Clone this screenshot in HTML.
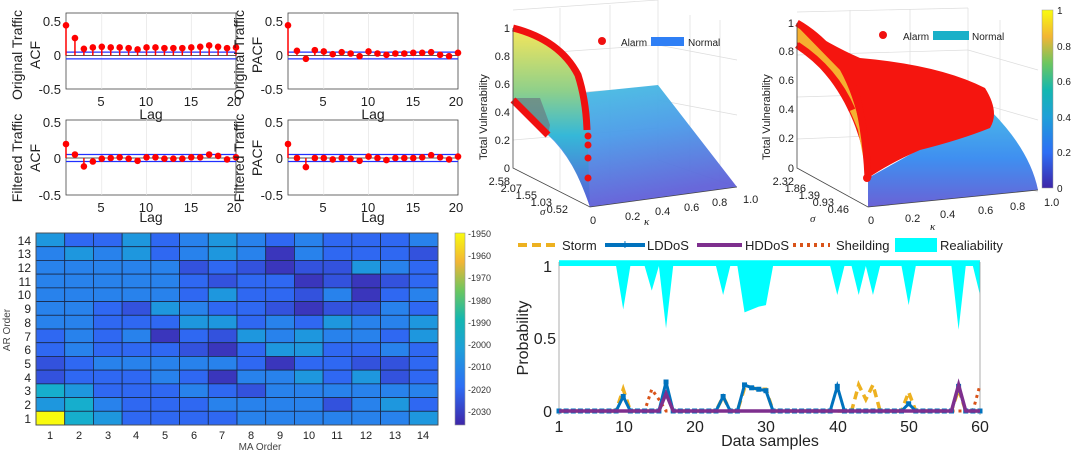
<!DOCTYPE html>
<html><head><meta charset="utf-8"><style>
body{margin:0;background:#fff;}
svg{display:block;font-family:"Liberation Sans",Arial,sans-serif;}
</style></head><body>
<svg id="s" width="1080" height="457" viewBox="0 0 1080 457" xmlns="http://www.w3.org/2000/svg">
<defs>
<linearGradient id="g1" x1="0" y1="0" x2="0" y2="1"><stop offset="0" stop-color="#f7e65a"/><stop offset="0.35" stop-color="#8fd08a"/><stop offset="0.6" stop-color="#35b8d8"/><stop offset="1" stop-color="#5a5ad8"/></linearGradient>
<linearGradient id="g2" x1="0" y1="0" x2="0.3" y2="1"><stop offset="0" stop-color="#45c6e0"/><stop offset="0.5" stop-color="#4a9ae8"/><stop offset="1" stop-color="#6060d8"/></linearGradient>
<linearGradient id="g3" x1="0" y1="0" x2="0" y2="1"><stop offset="0" stop-color="#4ab8e8"/><stop offset="0.5" stop-color="#3f8ff0"/><stop offset="1" stop-color="#6a62d6"/></linearGradient>
<linearGradient id="cb" x1="0" y1="1" x2="0" y2="0"><stop offset="0" stop-color="#3e26a8"/><stop offset="0.2" stop-color="#2d6ef5"/><stop offset="0.4" stop-color="#1ea0d8"/><stop offset="0.55" stop-color="#14b7b0"/><stop offset="0.7" stop-color="#6cc660"/><stop offset="0.85" stop-color="#f2b535"/><stop offset="1" stop-color="#f9fb0e"/></linearGradient>
</defs>
<g id="acf" font-size="13" fill="#222"></g>
<g font-size="13" fill="#222" text-anchor="end">
<text x="61" y="26">0.5</text><text x="61" y="60">0</text><text x="61" y="94">-0.5</text>
<text x="283" y="26">0.5</text><text x="283" y="60">0</text><text x="283" y="94">-0.5</text>
<text x="61" y="127">0.5</text><text x="61" y="163">0</text><text x="61" y="200">-0.5</text>
<text x="283" y="127">0.5</text><text x="283" y="163">0</text><text x="283" y="200">-0.5</text>
</g>
<g font-size="13" fill="#222" text-anchor="middle">
<text x="101" y="106">5</text><text x="146" y="106">10</text><text x="191" y="106">15</text><text x="234" y="106">20</text>
<text x="323" y="106">5</text><text x="368" y="106">10</text><text x="413" y="106">15</text><text x="456" y="106">20</text>
<text x="101" y="212">5</text><text x="146" y="212">10</text><text x="191" y="212">15</text><text x="234" y="212">20</text>
<text x="323" y="212">5</text><text x="368" y="212">10</text><text x="413" y="212">15</text><text x="456" y="212">20</text>
<text x="151" y="119" font-size="14">Lag</text><text x="373" y="119" font-size="14">Lag</text>
<text x="151" y="222" font-size="14">Lag</text><text x="373" y="222" font-size="14">Lag</text>
<text transform="translate(22,55) rotate(-90)" font-size="14">Original Traffic</text>
<text transform="translate(40,55) rotate(-90)" font-size="14">ACF</text>
<text transform="translate(244,55) rotate(-90)" font-size="14">Original Traffic</text>
<text transform="translate(262,55) rotate(-90)" font-size="14">PACF</text>
<text transform="translate(22,158) rotate(-90)" font-size="14">Filtered Traffic</text>
<text transform="translate(40,158) rotate(-90)" font-size="14">ACF</text>
<text transform="translate(244,158) rotate(-90)" font-size="14">Filtered Traffic</text>
<text transform="translate(262,158) rotate(-90)" font-size="14">PACF</text>
</g>
<g id="hm"></g>
<rect x="455" y="233" width="10" height="192" fill="url(#cb)" stroke="#999" stroke-width="0.6"/>
<g font-size="9" fill="#333">
<text x="468" y="237">-1950</text><text x="468" y="259">-1960</text><text x="468" y="281">-1970</text><text x="468" y="304">-1980</text><text x="468" y="326">-1990</text><text x="468" y="348">-2000</text><text x="468" y="370">-2010</text><text x="468" y="393">-2020</text><text x="468" y="415">-2030</text>
</g>
<g font-size="12" fill="#222" text-anchor="end">
<text x="31" y="423">1</text><text x="31" y="409">2</text><text x="31" y="395">3</text><text x="31" y="382">4</text><text x="31" y="368">5</text><text x="31" y="354">6</text><text x="31" y="341">7</text><text x="31" y="327">8</text><text x="31" y="313">9</text><text x="31" y="299">10</text><text x="31" y="286">11</text><text x="31" y="272">12</text><text x="31" y="258">13</text><text x="31" y="245">14</text>
</g>
<g font-size="11" fill="#222" text-anchor="middle">
<text x="50" y="439">1</text><text x="79" y="439">2</text><text x="108" y="439">3</text><text x="136" y="439">4</text><text x="165" y="439">5</text><text x="194" y="439">6</text><text x="222" y="439">7</text><text x="251" y="439">8</text><text x="280" y="439">9</text><text x="309" y="439">10</text><text x="337" y="439">11</text><text x="366" y="439">12</text><text x="395" y="439">13</text><text x="423" y="439">14</text>
<text x="260" y="450" font-size="10" fill="#444">MA Order</text>
<text transform="translate(10,330) rotate(-90)" font-size="10" fill="#444">AR Order</text>
</g>
<!-- 3D plot 1 -->
<g stroke="#ddd" stroke-width="0.7" fill="none">
<line x1="513" y1="10" x2="658" y2="0"/><line x1="658" y1="0" x2="658" y2="160"/><line x1="658" y1="160" x2="737" y2="187"/>
<line x1="513" y1="55" x2="658" y2="45"/><line x1="513" y1="97" x2="658" y2="87"/><line x1="513" y1="140" x2="658" y2="128"/>
<line x1="560" y1="8" x2="560" y2="190"/><line x1="610" y1="5" x2="610" y2="180"/>
<line x1="658" y1="45" x2="737" y2="60"/><line x1="658" y1="100" x2="737" y2="115"/><line x1="690" y1="15" x2="690" y2="170"/><line x1="720" y1="20" x2="720" y2="182"/>
</g>
<path d="M513,100 L658,85 L737,187 L590,207 Q575,160 548,135 Z" fill="url(#g2)" opacity="0.95"/>
<path d="M513,28 Q560,40 578,75 Q586,110 588,150 L590,207 Q570,150 548,135 L513,100 Z" fill="url(#g1)"/>
<path d="M513,98 L540,98 L550,125 L548,135 Z" fill="#6a7a80" opacity="0.7"/>
<path d="M513,28 Q560,40 578,75 Q586,100 587,130" stroke="#f01010" stroke-width="7" fill="none"/>
<path d="M513,100 L548,135" stroke="#f01010" stroke-width="7" fill="none"/>
<g fill="#f01010"><circle cx="588" cy="136" r="3.5"/><circle cx="588" cy="145" r="3.5"/><circle cx="588" cy="158" r="3.5"/><circle cx="588" cy="178" r="3.5"/></g>
<g stroke="#444" stroke-width="0.8" fill="none"><polyline points="513,28 513,168 590,207 737,187"/></g>
<g font-size="11" fill="#222" text-anchor="end">
<text x="510" y="32">1</text><text x="510" y="60">0.8</text><text x="510" y="88">0.6</text><text x="510" y="116">0.4</text><text x="510" y="144">0.2</text><text x="510" y="172">0</text>
<text x="510" y="185">2.58</text><text x="522" y="192">2.07</text><text x="537" y="199">1.55</text><text x="552" y="206">1.03</text><text x="568" y="213">0.52</text>
</g>
<g font-size="11" fill="#222">
<text x="590" y="224">0</text><text x="625" y="220">0.2</text><text x="655" y="215">0.4</text><text x="684" y="211">0.6</text><text x="712" y="206">0.8</text><text x="743" y="203">1.0</text>
<text x="540" y="215" font-style="italic" font-family="Liberation Serif">σ</text><text x="644" y="225" font-style="italic" font-family="Liberation Serif">κ</text>
<text transform="translate(487,160) rotate(-90)">Total Vulnerability</text>
<circle cx="602" cy="41" r="4" fill="#f01010"/><text x="621" y="46" font-size="10">Alarm</text><rect x="651" y="37" width="33" height="9" fill="#2f7ff5"/><text x="688" y="46" font-size="10">Normal</text>
</g>
<!-- 3D plot 2 -->
<g stroke="#ddd" stroke-width="0.7" fill="none">
<line x1="797" y1="12" x2="968" y2="8"/><line x1="968" y1="8" x2="968" y2="165"/><line x1="968" y1="165" x2="1038" y2="192"/>
<line x1="797" y1="55" x2="968" y2="50"/><line x1="797" y1="97" x2="968" y2="92"/><line x1="797" y1="139" x2="968" y2="132"/>
<line x1="850" y1="10" x2="850" y2="195"/><line x1="910" y1="9" x2="910" y2="185"/>
<line x1="968" y1="50" x2="1038" y2="70"/><line x1="968" y1="100" x2="1038" y2="120"/><line x1="1000" y1="20" x2="1000" y2="178"/>
</g>
<path d="M868,178 L990,110 Q1030,150 1038,190 L868,207 Z" fill="url(#g3)"/>
<path d="M797,23 Q830,45 860,58 Q940,65 985,88 Q1000,112 990,128 Q960,140 920,150 Q890,163 868,178 Q860,120 830,80 Q810,55 797,45 Z" fill="#f5150f"/>
<path d="M797,26 L797,42 Q835,70 858,130 L866,172 Q862,110 840,70 Z" fill="#f5b030"/>
<path d="M797,23 Q835,45 855,90 Q866,130 868,178" stroke="#f5150f" stroke-width="7" fill="none"/>
<path d="M797,45 Q835,70 852,110" stroke="#f5150f" stroke-width="7" fill="none"/>
<circle cx="867" cy="178" r="4" fill="#f5150f"/>
<g stroke="#444" stroke-width="0.8" fill="none"><polyline points="797,23 797,168 868,207 1038,190"/></g>
<g font-size="11" fill="#222" text-anchor="end">
<text x="794" y="27">1</text><text x="794" y="55">0.8</text><text x="794" y="84">0.6</text><text x="794" y="113">0.4</text><text x="794" y="142">0.2</text><text x="794" y="172">0</text>
<text x="794" y="185">2.32</text><text x="806" y="192">1.86</text><text x="820" y="199">1.39</text><text x="834" y="206">0.93</text><text x="849" y="213">0.46</text>
</g>
<g font-size="11" fill="#222">
<text x="868" y="224">0</text><text x="905" y="222">0.2</text><text x="940" y="218">0.4</text><text x="978" y="214">0.6</text><text x="1010" y="210">0.8</text><text x="1044" y="206">1.0</text>
<text x="810" y="222" font-style="italic" font-family="Liberation Serif">σ</text><text x="930" y="230" font-style="italic" font-family="Liberation Serif">κ</text>
<text transform="translate(770,160) rotate(-90)">Total Vulnerability</text>
<circle cx="883" cy="35" r="4" fill="#f01010"/><text x="903" y="40" font-size="10">Alarm</text><rect x="933" y="31" width="36" height="9" fill="#1ab0c8"/><text x="972" y="40" font-size="10">Normal</text>
</g>
<rect x="1042" y="10" width="11" height="178" fill="url(#cb)" stroke="#999" stroke-width="0.5"/>
<g font-size="10" fill="#222"><text x="1057" y="14">1</text><text x="1057" y="50">0.8</text><text x="1057" y="85">0.6</text><text x="1057" y="121">0.4</text><text x="1057" y="156">0.2</text><text x="1057" y="192">0</text></g>
<!-- line plot -->
<g id="lp"></g>
<g font-size="16" fill="#222" text-anchor="middle">
<text x="559" y="432">1</text><text x="624" y="432">10</text><text x="695" y="432">20</text><text x="766" y="432">30</text><text x="838" y="432">40</text><text x="909" y="432">50</text><text x="980" y="432">60</text>
<text x="770" y="446">Data samples</text>
<text transform="translate(528,338) rotate(-90)">Probability</text>
</g>
<g font-size="16" fill="#222" text-anchor="end"><text x="552" y="272">1</text><text x="556" y="344">0.5</text><text x="552" y="417">0</text></g>
<g font-size="13" fill="#222">
<line x1="518" y1="245" x2="560" y2="245" stroke="#EDB120" stroke-width="4" stroke-dasharray="9,5"/><text x="562" y="250">Storm</text>
<line x1="605" y1="245" x2="645" y2="245" stroke="#0072BD" stroke-width="4"/><text x="625" y="249" font-size="14" fill="#0072BD" text-anchor="middle">+</text><text x="647" y="250">LDDoS</text>
<line x1="697" y1="245" x2="742" y2="245" stroke="#7E2F8E" stroke-width="4"/><text x="745" y="250">HDDoS</text>
<line x1="793" y1="245" x2="830" y2="245" stroke="#D95319" stroke-width="4" stroke-dasharray="3,4"/><text x="836" y="250">Sheilding</text>
<rect x="895" y="238" width="42" height="14" fill="#00ffff"/><text x="940" y="250">Realiability</text>
</g>
</svg>
<script>
(function(){
var N="http://www.w3.org/2000/svg";
function el(p,t,a){var e=document.createElementNS(N,t);for(var k in a)e.setAttribute(k,a[k]);p.appendChild(e);return e;}
var acf=document.getElementById('acf');
var data=[
[0.45,0.26,0.1,0.12,0.13,0.12,0.12,0.11,0.09,0.12,0.12,0.11,0.11,0.11,0.12,0.13,0.15,0.13,0.11,0.12],
[0.45,0.07,-0.05,0.08,0.06,0.02,0.05,0.03,-0.01,0.06,0.03,0.01,0.03,0.03,0.04,0.04,0.05,0.01,-0.01,0.04],
[0.2,0.05,-0.12,-0.05,-0.01,0,0.01,-0.01,-0.04,0.01,0.01,-0.01,-0.01,-0.01,0.01,0.01,0.05,0.03,-0.02,0.01],
[0.2,0,-0.13,0,0,-0.02,0,-0.01,-0.04,0.02,0,-0.03,0,0,0,0.01,0.04,0.01,-0.02,0.02]];
var P=[[66,236,13,89,55.5,67],[288,458,13,89,55.5,67],[66,236,120,195,158,70],[288,458,120,195,158,70]];
for(var p=0;p<4;p++){var c=P[p],x0=c[0],x1=c[1],t=c[2],b=c[3],z=c[4],s=c[5];
 el(acf,'rect',{x:x0,y:t,width:x1-x0,height:b-t,fill:'#fff',stroke:'#444','stroke-width':0.8});
 [5,10,15].forEach(function(l){var x=x0+(l-1)*(x1-x0)/19;el(acf,'line',{x1:x,x2:x,y1:t,y2:b,stroke:'#e4e4e4','stroke-width':0.7});});
 el(acf,'line',{x1:x0,x2:x1,y1:z,y2:z,stroke:'#222','stroke-width':0.8});
 [0.05,-0.05].forEach(function(v){el(acf,'line',{x1:x0,x2:x1,y1:z-s*v,y2:z-s*v,stroke:'#2030ff','stroke-width':1.3});});
 for(var i=0;i<20;i++){var x=x0+i*(x1-x0)/19,y=z-s*data[p][i];el(acf,'line',{x1:x,x2:x,y1:z,y2:y,stroke:'#f00','stroke-width':1.5});el(acf,'circle',{cx:x,cy:y,r:3.3,fill:'#f00'});}
}
var g=['c m m c m b c b m b m m m b','b c b c m b c b D b m m m d','b b b b b d m d D d d c b m','b b b b b m d m m D d D d m','b b b b b m c m m d b D m b','b b m d c b m m d D d d b m','b b m m m c c m b m c b b c','m b m b D m d c b c b b m c','m b m m m d D m c c m m b m','d m b b b b b m D m m d d m','d m m m b m D b b c m c d m','T c m m m b m d b b b b b b','c T b m m m b b b b d b c m','Y T c m m m m b b b b b b c'];
var col={Y:'#f9fb0e',T:'#16aecd',c:'#1e97de',b:'#2882ec',m:'#2f68f2',d:'#3352dd',D:'#3a36bc'};
var hm=document.getElementById('hm');var w=402/14,h=192/14;
g.forEach(function(r,ri){r.split(' ').forEach(function(k,ci){el(hm,'rect',{x:36+ci*w,y:233+ri*h,width:w,height:h,fill:col[k],stroke:'#1a2a4a','stroke-width':0.8});});});
el(hm,'rect',{x:36,y:233,width:402,height:192,fill:'none',stroke:'#555','stroke-width':0.8});
var lp=document.getElementById('lp');
function X(i){return 559+(i-1)*421/59;}function Y(v){return 411-145*v;}
var rel=[];for(var i=1;i<=60;i++)rel[i]=1;
var dips={10:0.7,14:0.83,16:0.57,24:0.8,27:0.68,28:0.7,29:0.72,30:0.73,40:0.8,43:0.8,45:0.8,50:0.73,57:0.56,60:0.8};
for(var k in dips)rel[k]=dips[k];
var pts=X(1)+','+Y(1.04);for(i=1;i<=60;i++)pts+=' '+X(i)+','+Y(rel[i]);pts+=' '+X(60)+','+Y(1.04);
el(lp,'polygon',{points:pts,fill:'#00ffff'});
el(lp,'line',{x1:559,x2:559,y1:262,y2:415,stroke:'#999','stroke-width':0.8});
el(lp,'line',{x1:980,x2:980,y1:262,y2:415,stroke:'#999','stroke-width':0.8});
function series(v,a){var s='';for(var i=1;i<=60;i++)s+=X(i)+','+Y(v[i]||0)+' ';return el(lp,'polyline',Object.assign({points:s,fill:'none'},a));}
series({10:0.15,16:0.14,24:0.1,27:0.16,28:0.16,29:0.15,30:0.15,43:0.18,44:0.08,45:0.18,50:0.13,57:0.15},{stroke:'#EDB120','stroke-width':3.5,'stroke-dasharray':'8,5'});
series({14:0.15,15:0.08,60:0.18},{stroke:'#D95319','stroke-width':3,'stroke-dasharray':'3,4'});
var ld={10:0.1,16:0.2,24:0.1,27:0.18,28:0.16,29:0.15,30:0.14,40:0.17,50:0.05,57:0.17};
series(ld,{stroke:'#0072BD','stroke-width':3});
for(i=1;i<=60;i++){el(lp,'rect',{x:X(i)-2.5,y:Y(ld[i]||0)-2.5,width:5,height:5,fill:'#0072BD'});}
series({16:0.12,57:0.18},{stroke:'#7E2F8E','stroke-width':3.5});
})();
</script>
</body></html>
